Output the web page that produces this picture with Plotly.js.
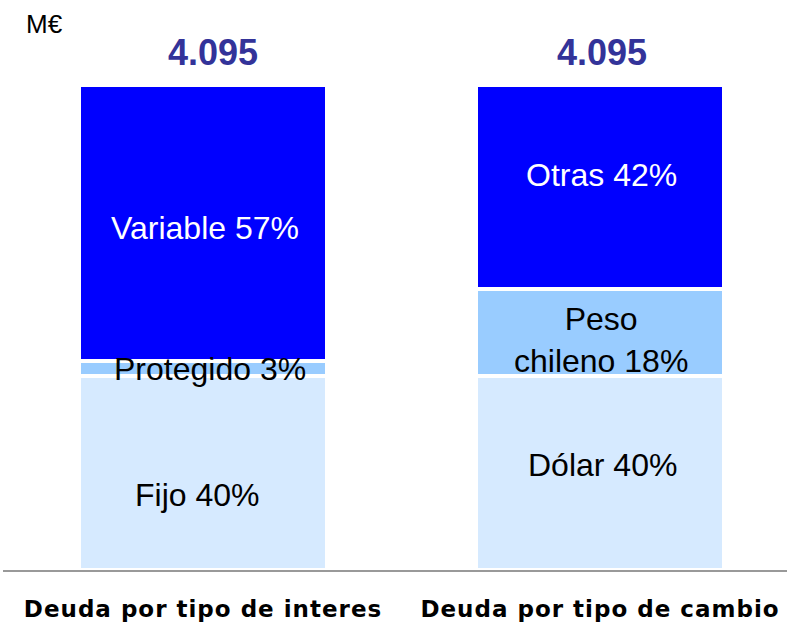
<!DOCTYPE html>
<html>
<head>
<meta charset="utf-8">
<script src="https://cdn.plot.ly/plotly-3.0.1.min.js"></script>
<style>
  html, body { margin: 0; padding: 0; background: #ffffff; }
  #chart { width: 787px; height: 625px; }
  .xtick text { letter-spacing: 1px; }
</style>
</head>
<body>
<div id="chart"></div>
<script>
// ---- data ----
const categories = ['Deuda por tipo de interes', 'Deuda por tipo de cambio'];
const totals = [4095, 4095];                  // M€
const bottomValues = [40, 40];                 // %
const middleValues = [3, 18];                  // %
const topValues = [57, 42];                    // %
const bottomLabels = ['Fijo 40%', 'Dólar 40%'];
const middleLabels = ['Protegido 3%', 'Peso<br>chileno 18%'];
const topLabels = ['Variable 57%', 'Otras 42%'];
const unitLabel = 'M€';

// ---- styles ----
const colors = { bottom: '#D6EAFF', middle: '#99CCFF', top: '#0000FF' };
const labelColors = { bottom: '#000000', middle: '#000000', top: '#FFFFFF' };
const labelShiftX = { bottom: [-6, 2], middle: [7, 1], top: [2, 1] };
const labelShiftY = { bottom: [-22, 8], middle: [0, -8], top: [-5, 12] };
const totalShiftX = [10, 2];

function fmtThousands(n) {
  return String(n).replace(/\B(?=(\d{3})+(?!\d))/g, '.');
}

function barTrace(values, color) {
  return {
    type: 'bar',
    x: categories,
    y: values,
    width: 0.627,
    marker: { color: color, line: { color: '#FFFFFF', width: 4 } },
    hoverinfo: 'none',
    showlegend: false
  };
}

const traces = [
  barTrace(bottomValues, colors.bottom),
  barTrace(middleValues, colors.middle),
  barTrace(topValues, colors.top)
];

const annotations = [];
const segs = [
  { key: 'bottom', vals: bottomValues, labels: bottomLabels },
  { key: 'middle', vals: middleValues, labels: middleLabels },
  { key: 'top', vals: topValues, labels: topLabels }
];
categories.forEach((cat, i) => {
  let base = 0;
  segs.forEach(s => {
    const v = s.vals[i];
    annotations.push({
      x: cat, y: base + v / 2, xref: 'x', yref: 'y',
      text: s.labels[i], showarrow: false,
      xanchor: 'center', yanchor: 'middle',
      xshift: labelShiftX[s.key][i], yshift: labelShiftY[s.key][i],
      font: { family: '"Liberation Sans", Arial, sans-serif', size: 32, color: labelColors[s.key] }
    });
    base += v;
  });
  annotations.push({
    x: cat, y: base, xref: 'x', yref: 'y',
    text: fmtThousands(totals[i]), showarrow: false,
    xanchor: 'center', yanchor: 'middle',
    xshift: totalShiftX[i], yshift: 33,
    font: { family: '"Liberation Sans", Arial, sans-serif', size: 36, color: '#333399', weight: 'bold' }
  });
});

const layout = {
  width: 787, height: 625,
  margin: { l: 3, r: 0, t: 85, b: 55 },
  paper_bgcolor: '#FFFFFF', plot_bgcolor: '#FFFFFF',
  barmode: 'stack',
  bargap: 0,
  title: {
    text: unitLabel,
    x: 26 / 787, xref: 'container', xanchor: 'left',
    y: 1 - 23.5 / 625, yref: 'container', yanchor: 'middle',
    font: { family: '"Liberation Sans", Arial, sans-serif', size: 26, color: '#000000' }
  },
  xaxis: {
    type: 'category',
    range: [-0.5038, 1.4710],
    showline: true, linecolor: '#999999', linewidth: 2,
    showgrid: false, zeroline: false,
    ticks: '', ticklabelstandoff: 17,
    tickfont: { family: '"DejaVu Sans", Verdana, sans-serif', size: 23, color: '#000000', weight: 'bold' },
    fixedrange: true
  },
  yaxis: {
    range: [0, 100], visible: false, showgrid: false, zeroline: false, fixedrange: true
  },
  annotations: annotations,
  showlegend: false
};

Plotly.newPlot('chart', traces, layout, { displayModeBar: false, staticPlot: true });
</script>
</body>
</html>
